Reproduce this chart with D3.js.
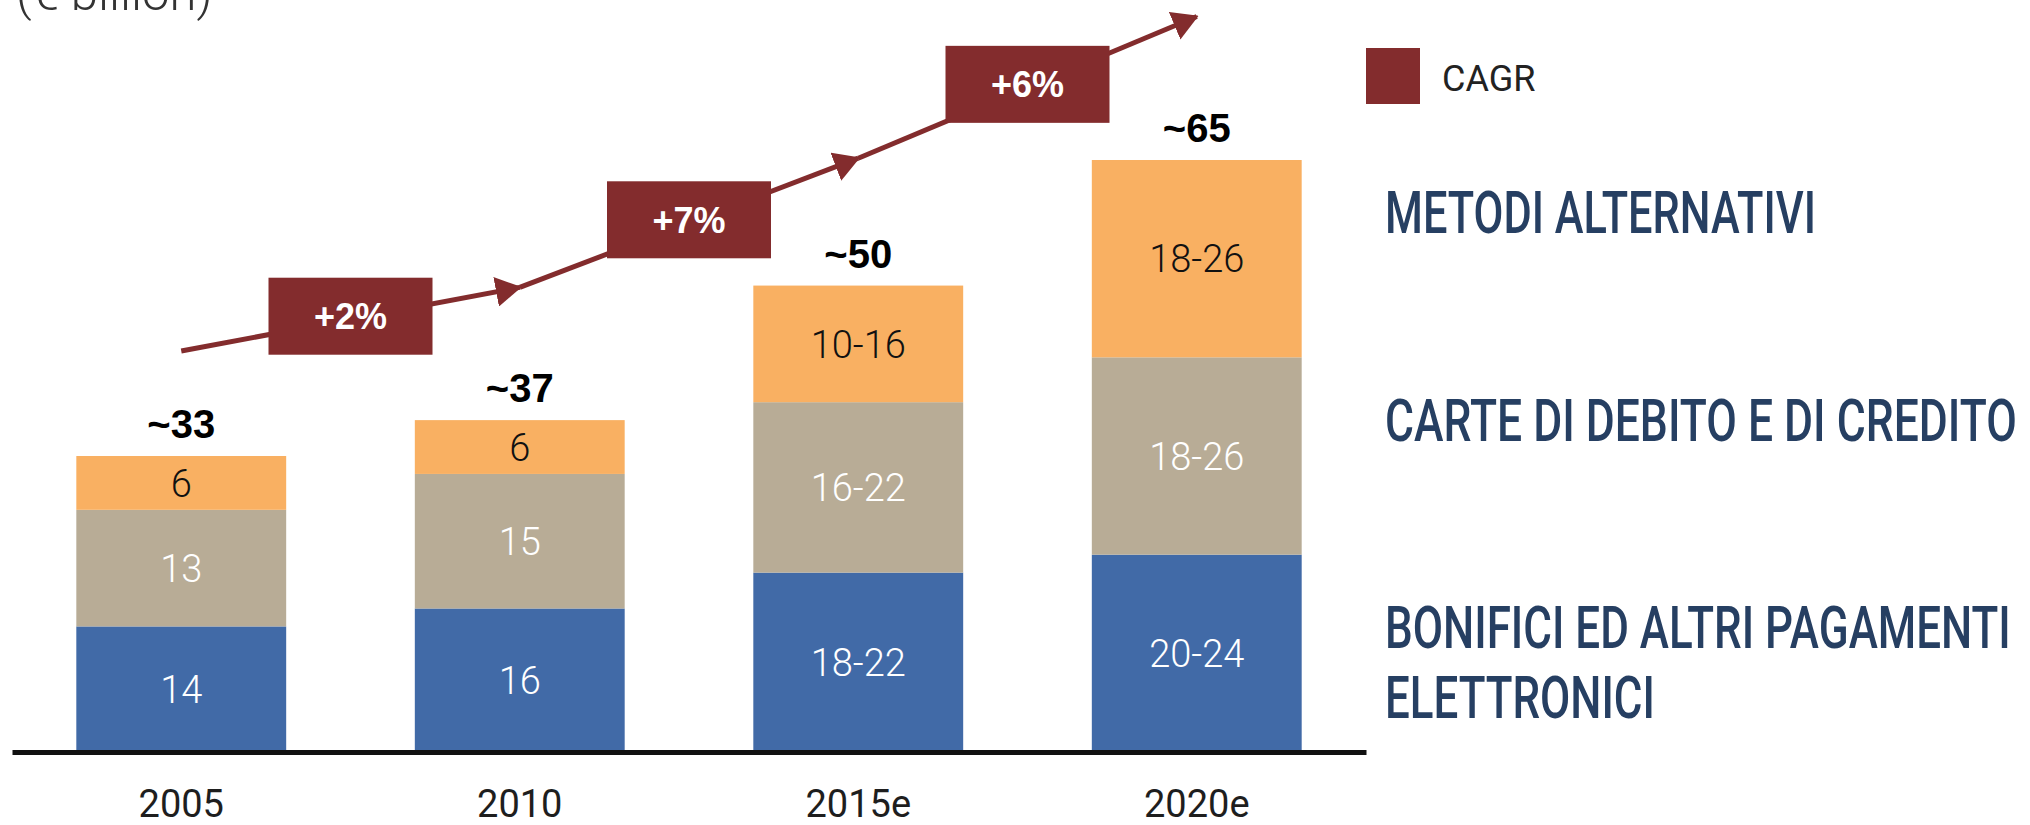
<!DOCTYPE html>
<html>
<head>
<meta charset="utf-8">
<script src="https://cdnjs.cloudflare.com/ajax/libs/d3/7.8.5/d3.min.js"></script>
<style>
  html, body { margin: 0; padding: 0; background: #fff; }
  svg { display: block; }
</style>
</head>
<body>
<div id="chart"></div>
<script>
// values in € billion, estimates shown as ranges use the midpoint for the bar
const years = ['2005', '2010', '2015e', '2020e'];
const bonifici = [14, 16, 20, 22];
const bonificiLabels = ['14', '16', '18-22', '20-24'];
const carte = [13, 15, 19, 22];
const carteLabels = ['13', '15', '16-22', '18-26'];
const alternativi = [6, 6, 13, 22];
const alternativiLabels = ['6', '6', '10-16', '18-26'];
const totals = ['~33', '~37', '~50', '~65'];
const cagr = ['+2%', '+7%', '+6%'];
// heights (on the value scale) the CAGR arrow passes through above each bar
const cagrLevels = [44.7, 51.8, 66.2, 82];
const seriesNames = ['METODI ALTERNATIVI', 'CARTE DI DEBITO E DI CREDITO', 'BONIFICI ED ALTRI PAGAMENTI\nELETTRONICI'];

const width = 2030, height = 825;
const colors = { bonifici: '#416aa7', carte: '#b8ac96', alternativi: '#f9b062', cagr: '#832c2d', navy: '#263f62' };

const svg = d3.select('#chart').append('svg')
  .attr('width', width)
  .attr('height', height);

const x = d3.scaleBand()
  .domain(years)
  .range([12, 1366])
  .paddingInner(0.38)
  .paddingOuter(0.19);

const y = d3.scaleLinear()
  .domain([0, 66])
  .range([752, 160]);

// stack the three series
const rows = years.map((yr, i) => ({
  year: yr,
  bonifici: bonifici[i],
  carte: carte[i],
  alternativi: alternativi[i]
}));
const keys = ['bonifici', 'carte', 'alternativi'];
const labels = { bonifici: bonificiLabels, carte: carteLabels, alternativi: alternativiLabels };
const labelColor = { bonifici: '#fff', carte: '#fff', alternativi: '#111' };
const stacked = d3.stack().keys(keys)(rows);

const layer = svg.selectAll('g.layer')
  .data(stacked)
  .enter()
  .append('g')
  .attr('class', 'layer')
  .attr('fill', d => colors[d.key]);

layer.selectAll('rect')
  .data(d => d)
  .enter()
  .append('rect')
  .attr('x', d => x(d.data.year))
  .attr('y', d => y(d[1]))
  .attr('width', x.bandwidth())
  .attr('height', d => y(d[0]) - y(d[1]));

// segment labels
stacked.forEach(s => {
  svg.append('g').selectAll('text')
    .data(s)
    .enter()
    .append('text')
    .attr('x', d => x(d.data.year) + x.bandwidth() / 2)
    .attr('y', d => (y(d[0]) + y(d[1])) / 2)
    .attr('dy', '0.36em')
    .attr('text-anchor', 'middle')
    .attr('font-family', 'Roboto, sans-serif')
    .attr('font-weight', 300)
    .attr('font-size', '38px')
    .attr('fill', labelColor[s.key])
    .text((d, i) => labels[s.key][i]);
});

// totals above bars
const topLayer = stacked[stacked.length - 1];
svg.append('g').selectAll('text')
  .data(topLayer)
  .enter()
  .append('text')
  .attr('x', d => x(d.data.year) + x.bandwidth() / 2)
  .attr('y', d => y(d[1]) - 18)
  .attr('text-anchor', 'middle')
  .attr('font-family', '"Liberation Sans", Arial, sans-serif')
  .attr('font-weight', 'bold')
  .attr('font-size', '40px')
  .attr('fill', '#000')
  .text((d, i) => totals[i]);

// x axis
const axis = svg.append('g')
  .attr('transform', `translate(0,${y(0)})`)
  .call(d3.axisBottom(x).tickSize(0).tickPadding(38).tickSizeOuter(0));
axis.select('.domain')
  .attr('stroke', '#111')
  .attr('stroke-width', 5);
axis.selectAll('text')
  .attr('font-family', 'Roboto, sans-serif')
  .attr('font-size', '38px')
  .attr('fill', '#1e1e1e');

// CAGR arrows
svg.append('defs').append('marker')
  .attr('id', 'arrow')
  .attr('markerUnits', 'userSpaceOnUse')
  .attr('viewBox', '0 0 26 30')
  .attr('refX', 24)
  .attr('refY', 15)
  .attr('markerWidth', 26)
  .attr('markerHeight', 30)
  .attr('orient', 'auto')
  .append('path')
  .attr('d', 'M0,0 L26,15 L0,30 Z')
  .attr('fill', colors.cagr);

const cx = i => x(years[i]) + x.bandwidth() / 2;
const segs = cagr.map((c, i) => ({
  label: c,
  x1: cx(i), y1: y(cagrLevels[i]),
  x2: cx(i + 1), y2: y(cagrLevels[i + 1])
}));

svg.append('g').selectAll('line')
  .data(segs)
  .enter()
  .append('line')
  .attr('x1', d => d.x1)
  .attr('y1', d => d.y1)
  .attr('x2', d => d.x2)
  .attr('y2', d => d.y2)
  .attr('stroke', colors.cagr)
  .attr('stroke-width', 5)
  .attr('marker-end', 'url(#arrow)');

const boxW = 164, boxH = 77;
const box = svg.append('g').selectAll('g')
  .data(segs)
  .enter()
  .append('g')
  .attr('transform', d => `translate(${(d.x1 + d.x2) / 2},${(d.y1 + d.y2) / 2 - 3})`);
box.append('rect')
  .attr('x', -boxW / 2)
  .attr('y', -boxH / 2)
  .attr('width', boxW)
  .attr('height', boxH)
  .attr('fill', colors.cagr);
box.append('text')
  .attr('text-anchor', 'middle')
  .attr('dy', '0.36em')
  .attr('font-family', '"Liberation Sans", Arial, sans-serif')
  .attr('font-weight', 'bold')
  .attr('font-size', '36px')
  .attr('fill', '#fff')
  .text(d => d.label);

// unit caption, cut off by the top edge as in the source
svg.append('text')
  .attr('x', 16)
  .attr('y', 10)
  .attr('font-family', 'Roboto, sans-serif')
  .attr('font-weight', 300)
  .attr('font-size', '49px')
  .attr('fill', '#333')
  .text('(€ billion)');

// legend
svg.append('rect')
  .attr('x', 1366)
  .attr('y', 48)
  .attr('width', 54)
  .attr('height', 56)
  .attr('fill', colors.cagr);
svg.append('text')
  .attr('x', 1442)
  .attr('y', 91)
  .attr('font-family', 'Roboto, sans-serif')
  .attr('font-size', '36px')
  .attr('fill', '#222')
  .text('CAGR');

// series names on the right, squeezed horizontally to a condensed look
const nameBaselines = [[233], [441], [648, 718]];
const nameWidths = [[431], [632], [626, 270]];
const nameRows = [];
seriesNames.forEach((name, i) => {
  name.split('\n').forEach((line, j) => {
    nameRows.push({ text: line, y: nameBaselines[i][j], w: nameWidths[i][j] });
  });
});
svg.append('g').selectAll('text')
  .data(nameRows)
  .enter()
  .append('text')
  .attr('font-family', 'Roboto, sans-serif')
  .attr('font-weight', 500)
  .attr('font-size', '60px')
  .attr('fill', colors.navy)
  .text(d => d.text)
  .attr('transform', function (d) {
    const natural = this.getComputedTextLength();
    return `translate(1385,${d.y}) scale(${d.w / natural},1)`;
  });
</script>
</body>
</html>
